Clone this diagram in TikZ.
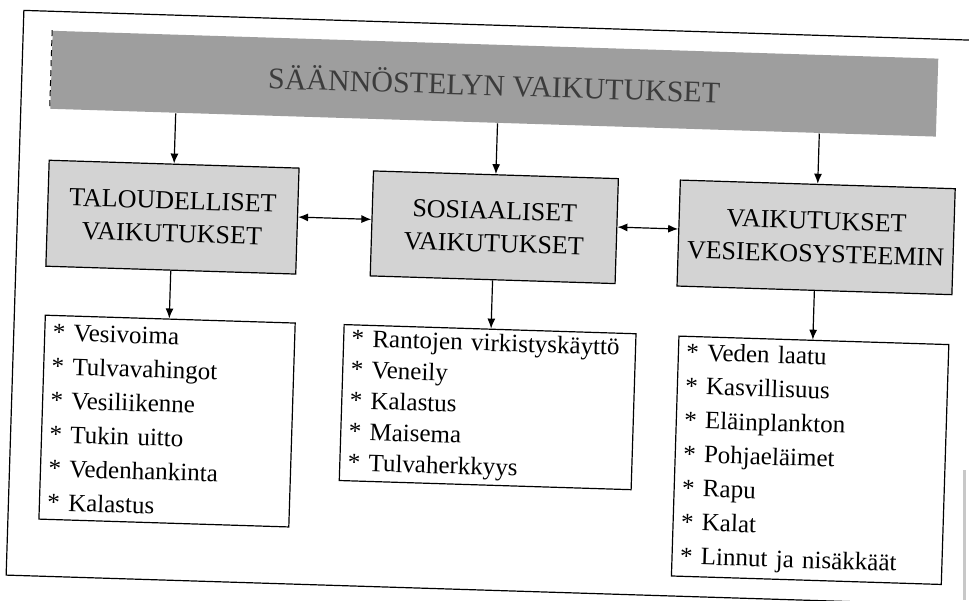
\documentclass[tikz,border=0pt]{standalone}
\usepackage{fontspec}
\setmainfont{Liberation Serif}
\usetikzlibrary{arrows.meta}
\definecolor{bannergray}{HTML}{9E9E9E}
\definecolor{boxgray}{HTML}{D3D3D3}
\definecolor{bannertext}{HTML}{3C3C3C}
\definecolor{scanedge}{HTML}{C8C8C8}
\begin{document}
\begin{tikzpicture}[x=1pt,y=-1pt,line width=1.2pt,
  every node/.style={transform shape},
  titlebox/.style={draw=black,fill=boxgray,align=center,inner sep=0pt,
    font=\fontsize{26}{33}\selectfont},
  listbox/.style={draw=black,fill=white,align=left,inner xsep=8pt,inner ysep=0pt,
    font=\fontsize{25}{34}\selectfont},
  arr/.style={-{Latex[length=10pt,width=8pt]}},
  darr/.style={{Latex[length=10pt,width=8pt]}-{Latex[length=10pt,width=8pt]}}]
\useasboundingbox (0,0) rectangle (969,600);
\clip (0,0) rectangle (969,600);
\fill[white] (0,0) rectangle (969,600);
\coordinate (edgeA) at (964,470);
\coordinate (edgeB) at (964,600);
\draw[scanedge,line width=3pt] (edgeA) -- (edgeB);
\begin{scope}[rotate around={-1.8:(485,300)}]
  % outer frame
  \draw (1040,25) -- (15,25) -- (15,590) -- (1040,590);
  % banner
  \node[fill=bannergray,minimum width=886pt,minimum height=78pt,inner sep=0pt,
        text=bannertext,font=\fontsize{30}{32}\selectfont] (ban) at (487.5,83.5)
        {SÄÄNNÖSTELYN VAIKUTUKSET};
  \draw[line width=1pt,dash pattern=on 6pt off 4pt] (ban.north west) -- (ban.south west);
  % title boxes
  \node[titlebox,minimum width=250pt,minimum height=106pt] (b1) at (170,227)
        {TALOUDELLISET\\VAIKUTUKSET};
  \node[titlebox,minimum width=245pt,minimum height=105pt] (b2) at (492,227)
        {SOSIAALISET\\VAIKUTUKSET};
  \node[titlebox,minimum width=275pt,minimum height=106pt] (b3) at (814,227)
        {VAIKUTUKSET\\VESIEKOSYSTEEMIN};
  % lists
  \node[listbox,text width=234pt,minimum height=204pt] (l1) at (171,431)
        {* Vesivoima\\{}* Tulvavahingot\\{}* Vesiliikenne\\{}* Tukin uitto\\{}* Vedenhankinta\\{}* Kalastus};
  \node[listbox,text width=276pt,minimum height=156pt,
        font=\fontsize{25}{31}\selectfont] (l2) at (491,407)
        {* Rantojen virkistyskäyttö\\{}* Veneily\\{}* Kalastus\\{}* Maisema\\{}* Tulvaherkkyys};
  \node[listbox,text width=254pt,minimum height=240pt] (l3) at (815,450)
        {* Veden laatu\\{}* Kasvillisuus\\{}* Eläinplankton\\{}* Pohjaeläimet\\{}* Rapu\\{}* Kalat\\{}* Linnut ja nisäkkäät};
  % connectors
  \draw[arr] (ban.south -| b1.north) -- (b1.north);
  \draw[arr] (ban.south -| b2.north) -- (b2.north);
  \draw[arr] (ban.south -| b3.north) -- (b3.north);
  \draw[arr] (b1.south) -- (b1.south |- l1.north);
  \draw[arr] (b2.south) -- (b2.south |- l2.north);
  \draw[arr] (b3.south) -- (b3.south |- l3.north);
  \draw[darr] ([yshift=4pt]b1.east) -- ([yshift=4pt]b2.west);
  \draw[darr] ([yshift=4pt]b2.east) -- ([yshift=4pt]b3.west);
\end{scope}
\end{tikzpicture}
\end{document}
